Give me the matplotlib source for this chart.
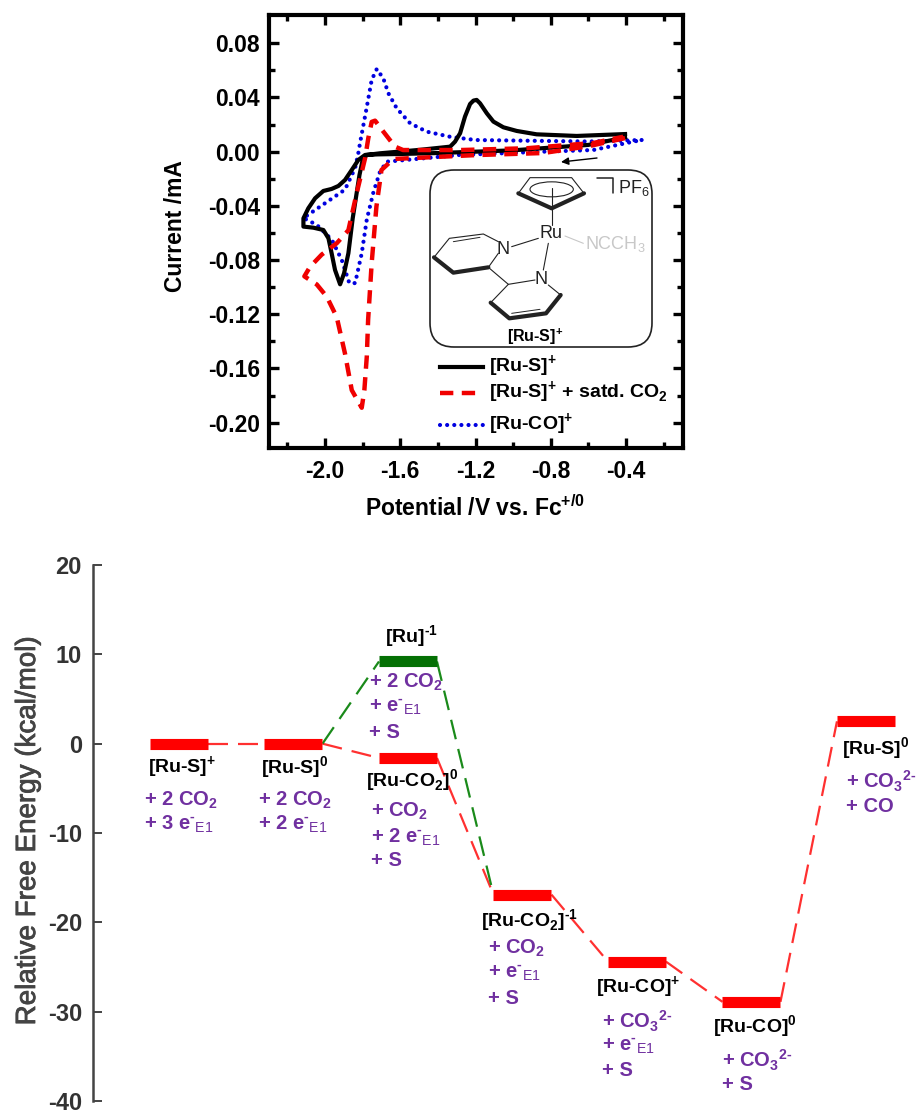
"""
Cyclic voltammograms (top) and free energy profile (bottom) for the Ru catalyst.
"""

import matplotlib
matplotlib.use("Agg")
import matplotlib.pyplot as plt
import matplotlib.patheffects as pe
from matplotlib.patches import FancyBboxPatch, Ellipse

plt.rcParams['font.family'] = ['Liberation Sans', 'DejaVu Sans']
plt.rcParams['mathtext.fontset'] = 'custom'
plt.rcParams['mathtext.rm'] = 'Liberation Sans'
plt.rcParams['mathtext.bf'] = 'Liberation Sans:bold'
plt.rcParams['axes.unicode_minus'] = False

# --- CV data (V, mA)
black_v = [-0.405, -0.6, -0.8, -1.0, -1.2, -1.4, -1.6, -1.72, -1.787, -1.823, -1.858, -1.894, -1.929, -1.965, -2.009, -2.053, -2.089,
           -2.115, -2.115, -2.062, -2.009, -1.982, -1.965, -1.947, -1.92, -1.899, -1.876, -1.853, -1.835, -1.817, -1.80, -1.778, -1.708,
           -1.5, -1.335, -1.309, -1.282, -1.256, -1.229, -1.211, -1.194, -1.176, -1.14, -1.105, -1.052, -0.981, -0.875, -0.662, -0.405]
black_i = [0.0105, 0.005, 0.003, 0.001, 0.000, -0.001, -0.0017, -0.002, -0.0024, -0.0061, -0.0135, -0.0209, -0.0253, -0.0275, -0.029, -0.0344, -0.0418,
           -0.0492, -0.0553, -0.0561, -0.0578, -0.0639, -0.075, -0.0873, -0.0979, -0.0898, -0.075, -0.0492, -0.0332, -0.0172, -0.0061, -0.0024, -0.0012,
           0.0013, 0.0037, 0.0074, 0.0136, 0.0259, 0.0352, 0.0377, 0.0382, 0.0357, 0.0283, 0.0222, 0.018, 0.0153, 0.0128, 0.0116, 0.013]

red_v = [-0.405, -0.6, -0.84, -1.195, -1.637, -1.70, -1.727, -1.752, -1.771, -1.778, -1.791, -1.805, -1.858, -1.894, -1.938, -1.991,
         -2.044, -2.11, -2.08, -2.018, -1.938, -1.876, -1.832, -1.787, -1.77, -1.752, -1.734, -1.69, -1.628, -1.585, -1.282, -0.93, -0.575, -0.415]
red_i = [0.010, 0.004, -0.001, -0.0025, -0.0054, -0.0135, -0.0406, -0.082, -0.124, -0.151, -0.176, -0.189, -0.176, -0.149, -0.122, -0.107,
         -0.098, -0.092, -0.085, -0.076, -0.0676, -0.058, -0.0307, -0.0047, 0.010, 0.022, 0.0229, 0.0148, 0.0037, 0.0012, 0.0012, 0.0025, 0.0064, 0.011]

blue_v = [-0.317, -0.6, -1.2, -1.335, -1.46, -1.548, -1.619, -1.663, -1.69, -1.725, -1.752, -1.778, -1.814, -1.823, -1.84, -1.894, -2.027, -2.115,
          -2.044, -1.964, -1.911, -1.871, -1.84, -1.805, -1.778, -1.743, -1.708, -1.672, -1.282, -0.84, -0.575, -0.396, -0.317]
blue_i = [0.0086, 0.0075, 0.0086, 0.011, 0.0148, 0.021, 0.032, 0.043, 0.054, 0.061, 0.053, 0.033, 0.0064, -0.001, -0.012, -0.028, -0.0406, -0.049,
          -0.054, -0.065, -0.08, -0.097, -0.097, -0.075, -0.05, -0.03, -0.0148, -0.0074, -0.0024, 0.0, 0.0012, 0.0064, 0.0086]

cv_xticks = [-2.0, -1.6, -1.2, -0.8, -0.4]
cv_xlabels = ['-2.0', '-1.6', '-1.2', '-0.8', '-0.4']
cv_yticks = [0.08, 0.04, 0.00, -0.04, -0.08, -0.12, -0.16, -0.20]
cv_ylabels = ['0.08', '0.04', '0.00', '-0.04', '-0.08', '-0.12', '-0.16', '-0.20']
cv_xminor = [-2.2, -1.8, -1.4, -1.0, -0.6, -0.2]
cv_yminor = [0.06, 0.02, -0.02, -0.06, -0.10, -0.14, -0.18]

# --- energy profile data (kcal/mol)
state_pos = [1, 2, 3, 4, 5, 6, 7]
state_energy = [0.0, 0.0, -1.6, -16.9, -24.4, -28.9, 2.5]
green_pos = 3
green_energy = 9.2
energy_ticks = [20, 10, 0, -10, -20, -30, -40]
energy_labels = ['20', '10', '0', '-10', '-20', '-30', '-40']

W, H = 916, 1112
fig = plt.figure(figsize=(W / 100, H / 100), dpi=100)


def box(left, top, right, bottom):
    return [left / W, 1 - bottom / H, (right - left) / W, (bottom - top) / H]


# top chart
BLUE_DOTS = (0, (0.01, 1.7))
RED_DASH = (0, (3.0, 1.9))
ax = fig.add_axes(box(269, 15.5, 683, 448))
ax.plot(blue_v, blue_i, color='#0000e0', lw=3, linestyle=BLUE_DOTS, dash_capstyle='round', label='[Ru-CO]+')
ax.plot(black_v, black_i, color='black', lw=3, solid_joinstyle='round', label='[Ru-S]+')
ax.plot(red_v, red_i, color='#f00000', lw=3.2, linestyle=RED_DASH, label='[Ru-S]+ + satd. CO2')
ax.set_xlim(-2.298, -0.097)
ax.set_ylim(-0.2187, 0.1005)
ax.set_xticks(cv_xticks, cv_xlabels, fontsize=16.5, fontweight='bold')
ax.set_yticks(cv_yticks, cv_ylabels, fontsize=16.5, fontweight='bold')
ax.set_xticks(cv_xminor, minor=True)
ax.set_yticks(cv_yminor, minor=True)
ax.tick_params(which='major', direction='in', length=7, width=2.4, top=True, right=True)
ax.tick_params(which='minor', direction='in', length=4, width=2.4, top=True, right=True)
ax.tick_params(axis='x', which='major', pad=9)
ax.tick_params(axis='y', which='major', pad=6.5)
for s in ax.spines.values():
    s.set_linewidth(3)

# bottom chart
ax2 = fig.add_axes(box(93, 565, 916, 1101))
ax2.set_xlim(0.249, 7.437)
ax2.set_ylim(-40, 20)
half = 0.2533
for i in range(len(state_pos) - 1):
    ax2.plot([state_pos[i] + half, state_pos[i + 1] - half], [state_energy[i], state_energy[i + 1]],
             color='#ff3030', lw=1.6, linestyle=(0, (9, 4.5)), zorder=2)
ax2.plot([state_pos[1] + half, green_pos - half], [state_energy[1], green_energy],
         color='#1a8a1a', lw=1.6, linestyle=(0, (9, 4.5)), zorder=2)
ax2.plot([green_pos + half, state_pos[3] - half], [green_energy, state_energy[3]],
         color='#1a8a1a', lw=1.6, linestyle=(0, (9, 4.5)), zorder=2)
for p, e in zip(state_pos, state_energy):
    ax2.plot([p - half, p + half], [e, e], color='#ff0000', lw=8, solid_capstyle='butt', zorder=3)
ax2.plot([green_pos - half, green_pos + half], [green_energy, green_energy], color='#047004', lw=8,
         solid_capstyle='butt', zorder=3)
ax2.set_yticks(energy_ticks, energy_labels, fontsize=17, fontweight='bold', color='#333333')
ax2.set_xticks([])
ax2.tick_params(axis='y', direction='in', length=6.5, width=1.4, color='#444444', pad=8)
for name in ['top', 'right', 'bottom']:
    ax2.spines[name].set_visible(False)
ax2.spines['left'].set_linewidth(1.8)
ax2.spines['left'].set_color('#444444')
ax2.patch.set_alpha(0)

# overlay in picture pixels for the annotations and the drawn structure
ov = fig.add_axes([0, 0, 1, 1], zorder=10)
ov.set_xlim(0, W)
ov.set_ylim(H, 0)
ov.axis('off')
ov.patch.set_alpha(0)

ov.text(176, 226, 'Current /mA', rotation=90, ha='center', va='center', fontsize=16.5, fontweight='bold')
ov.text(475, 508, 'Potential /V vs. Fc$^{\\mathbf{+/0}}$', ha='center', va='center', fontsize=16.5, fontweight='bold')
ov.text(28, 831, 'Relative Free Energy (kcal/mol)', rotation=90, ha='center', va='center', fontsize=20, color='#444444',
        path_effects=[pe.withStroke(linewidth=0.6, foreground='#444444')])

# scan direction arrow
ov.annotate('', xy=(561, 162), xytext=(597, 158), arrowprops=dict(arrowstyle='-|>', color='black', lw=1, mutation_scale=11, shrinkA=0, shrinkB=0))

# inset with structure
ov.add_patch(FancyBboxPatch((430, 170), 222, 177, boxstyle='round,pad=0,rounding_size=24', fc='white', ec='#222222', lw=1.2, zorder=1))


def zp(points):
    # zoomed crop coordinates to picture pixels
    return [420 + p[0] / 3 for p in points], [150 + p[1] / 3 for p in points]


def bond(points, lw=0.8, color='#222222'):
    xs, ys = zp(points)
    ov.plot(xs, ys, color=color, lw=lw, solid_capstyle='round', zorder=2)


bond([(295, 130), (330, 83), (455, 83), (492, 130)])
bond([(295, 130), (395, 175), (492, 130)], lw=3)
ov.add_patch(Ellipse((420 + 395 / 3, 150 + 118 / 3), 130 / 3, 45 / 3, fc='none', ec='#222222', lw=0.8, zorder=2))
bond([(395, 115), (395, 225)])
bond([(530, 85), (578, 85), (578, 130)], lw=1.1)
bond([(355, 265), (275, 290)])
bond([(435, 258), (490, 280)], color='#c8c8c8')
bond([(385, 280), (370, 360)])
bond([(235, 275), (190, 252), (88, 265), (42, 322)])
bond([(100, 275), (180, 262)], lw=0.7)
bond([(42, 322), (100, 368), (205, 352)], lw=3)
bond([(205, 352), (235, 310)])
bond([(205, 352), (265, 403), (345, 390)])
bond([(385, 405), (422, 435)])
bond([(422, 435), (378, 490), (268, 505), (212, 458)], lw=3)
bond([(212, 458), (265, 403)])
bond([(275, 490), (360, 478)], lw=0.7)
ov.text(420 + 393 / 3, 150 + 250 / 3, 'Ru', ha='center', va='center', fontsize=13, color='#222222', zorder=3)
ov.text(420 + 250 / 3, 150 + 298 / 3, 'N', ha='center', va='center', fontsize=13, color='#222222', zorder=3)
ov.text(420 + 362 / 3, 150 + 388 / 3, 'N', ha='center', va='center', fontsize=13, color='#222222', zorder=3)
ov.text(420 + 495 / 3, 150 + 283 / 3, 'NCCH$_3$', ha='left', va='center', fontsize=13, color='#c8c8c8', zorder=3)
ov.text(420 + 595 / 3, 150 + 115 / 3, 'PF$_6$', ha='left', va='center', fontsize=13, color='#222222', zorder=3)
ov.text(420 + 345 / 3, 150 + 562 / 3, '[Ru-S]$^{\\mathbf{+}}$', ha='center', va='center', fontsize=11.5, fontweight='bold', zorder=3)

# legend
ov.plot([440, 483], [367, 367], color='black', lw=3)
ov.plot([440, 483], [393, 393], color='#f00000', lw=3.2, linestyle=RED_DASH)
ov.plot([440, 483], [425, 425], color='#0000e0', lw=3, linestyle=BLUE_DOTS, dash_capstyle='round')
ov.text(489, 367, '[Ru-S]$^{\\mathbf{+}}$', va='center', fontsize=14, fontweight='bold')
ov.text(489, 393, '[Ru-S]$^{\\mathbf{+}}$ + satd. CO$_{\\mathbf{2}}$', va='center', fontsize=14, fontweight='bold')
ov.text(489, 425, '[Ru-CO]$^{\\mathbf{+}}$', va='center', fontsize=14, fontweight='bold')

# state labels on the energy profile
PURPLE = '#7030a0'
E1 = '$^{\\mathbf{\u2010}}{}_{\\mathrm{E1}}$'
CO2 = 'CO$_{\\mathbf{2}}$'
CO3 = 'CO$_{\\mathbf{3}}{}^{\\mathbf{2\u2010}}$'

black_labels = [
    (148, 768, '[Ru-S]$^{\\mathbf{+}}$'),
    (261, 768, '[Ru-S]$^{\\mathbf{0}}$'),
    (385, 637, '[Ru]$^{\\mathbf{\u20101}}$'),
    (366, 781, '[Ru-CO$_{\\mathbf{2}}$]$^{\\mathbf{0}}$'),
    (481, 921, '[Ru-CO$_{\\mathbf{2}}$]$^{\\mathbf{\u20101}}$'),
    (596, 988, '[Ru-CO]$^{\\mathbf{+}}$'),
    (713, 1027, '[Ru-CO]$^{\\mathbf{0}}$'),
    (842, 749, '[Ru-S]$^{\\mathbf{0}}$'),
]
purple_labels = [
    (144, 800, '+ 2 ' + CO2), (144, 824, '+ 3 e' + E1),
    (258, 800, '+ 2 ' + CO2), (258, 824, '+ 2 e' + E1),
    (369, 682, '+ 2 ' + CO2), (369, 707, '+ e' + E1), (369, 732, '+ S'),
    (371, 811, '+ ' + CO2), (371, 837, '+ 2 e' + E1), (371, 860, '+ S'),
    (488, 948, '+ ' + CO2), (488, 973, '+ e' + E1), (488, 998, '+ S'),
    (602, 1021, '+ ' + CO3), (602, 1046, '+ e' + E1), (602, 1070, '+ S'),
    (722, 1060, '+ ' + CO3), (722, 1085, '+ S'),
    (846, 781, '+ ' + CO3), (846, 806, '+ CO'),
]
for x, y, s in black_labels:
    ov.text(x, y, s, va='center', fontsize=14, fontweight='bold', color='black')
for x, y, s in purple_labels:
    ov.text(x, y, s, va='center', fontsize=14.5, fontweight='bold', color=PURPLE)

fig.savefig('out.png', dpi=100)
